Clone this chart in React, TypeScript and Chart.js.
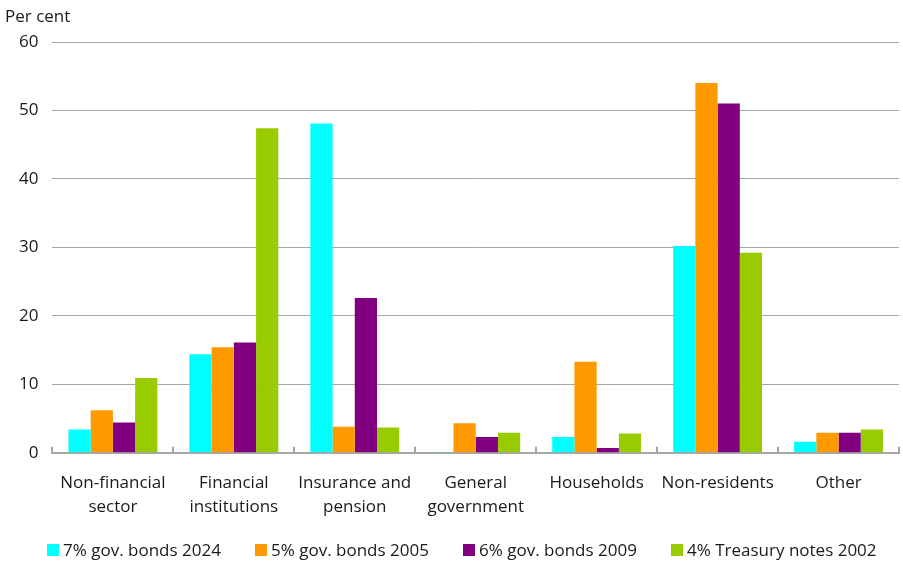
import React, { useEffect, useRef } from "react";
import { Chart, registerables } from "chart.js";

Chart.register(...registerables);

const categories: (string | string[])[] = [
  ["Non-financial", "sector"],
  ["Financial", "institutions"],
  ["Insurance and", "pension"],
  ["General", "government"],
  "Households",
  "Non-residents",
  "Other",
];

const seriesNames = [
  "7% gov. bonds 2024",
  "5% gov. bonds 2005",
  "6% gov. bonds 2009",
  "4% Treasury notes 2002",
];

const bonds2024 = [3.4, 14.4, 48.1, 0.1, 2.3, 30.2, 1.6];
const bonds2005 = [6.2, 15.4, 3.8, 4.3, 13.3, 54.0, 2.9];
const bonds2009 = [4.4, 16.1, 22.6, 2.3, 0.7, 51.0, 2.9];
const notes2002 = [10.9, 47.4, 3.7, 2.9, 2.8, 29.2, 3.4];

const colors = ["#00ffff", "#ff9900", "#800080", "#99cc00"];

const yTicks = [0, 10, 20, 30, 40, 50, 60];

const FONT = "'Open Sans', 'Noto Sans', sans-serif";
const FS = 17;

export default function App() {
  const ref = useRef<HTMLCanvasElement>(null);

  useEffect(() => {
    if (!ref.current) return;
    const extras = {
      id: "extras",
      afterDraw(chart: any) {
        const { ctx, chartArea } = chart;
        const x = chart.scales.x;
        ctx.save();
        ctx.strokeStyle = "#a6a6a6";
        ctx.lineWidth = 2;
        const n = categories.length;
        for (let i = 0; i <= n; i++) {
          const px = Math.round(x.left + (i * (x.right - x.left)) / n);
          ctx.beginPath();
          ctx.moveTo(px, chartArea.bottom);
          ctx.lineTo(px, chartArea.bottom - 6);
          ctx.stroke();
        }
        ctx.fillStyle = "#1a1a1a";
        ctx.font = `${FS}px ${FONT}`;
        ctx.textAlign = "left";
        ctx.textBaseline = "alphabetic";
        ctx.fillText("Per cent", 5, 22);
        // legend with fixed item widths
        const itemW = 208;
        const startX = 47;
        const cy = chart.height - 13;
        ctx.textBaseline = "middle";
        seriesNames.forEach((name, i) => {
          const bx = startX + i * itemW;
          ctx.fillStyle = colors[i];
          ctx.fillRect(bx, cy - 6, 12, 12);
          ctx.fillStyle = "#1a1a1a";
          ctx.fillText(name, bx + 16, cy + 1);
        });
        ctx.restore();
      },
    };
    const chart = new Chart(ref.current, {
      type: "bar",
      data: {
        labels: categories,
        datasets: [bonds2024, bonds2005, bonds2009, notes2002].map((d, i) => ({
          label: seriesNames[i],
          data: d,
          backgroundColor: colors[i],
          borderWidth: 0,
          barPercentage: 1,
          categoryPercentage: 0.735,
        })),
      },
      options: {
        responsive: false,
        animation: false,
        devicePixelRatio: 1,
        layout: { padding: { top: 42, right: 4, left: 5, bottom: 34 } },
        plugins: {
          legend: { display: false },
          tooltip: { enabled: false },
        },
        scales: {
          x: {
            grid: { display: false },
            border: { color: "#a6a6a6", width: 2 },
            ticks: {
              color: "#1a1a1a",
              font: { family: FONT, size: FS, lineHeight: 1.42 },
              maxRotation: 0,
              autoSkip: false,
              padding: 10,
            },
          },
          y: {
            min: 0,
            max: 60,
            afterBuildTicks: (s: any) => {
              s.ticks = yTicks.map((v) => ({ value: v }));
            },
            grid: { color: "#a6a6a6", lineWidth: 1, drawTicks: false },
            border: { display: false },
            ticks: {
              color: "#1a1a1a",
              font: { family: FONT, size: FS },
              padding: 14,
            },
          },
        },
      },
      plugins: [extras],
    });
    return () => chart.destroy();
  }, []);

  return (
    <div style={{ position: "absolute", left: 0, top: 0, width: 903, height: 563, background: "#fff" }}>
      <canvas ref={ref} width={903} height={563} />
    </div>
  );
}
